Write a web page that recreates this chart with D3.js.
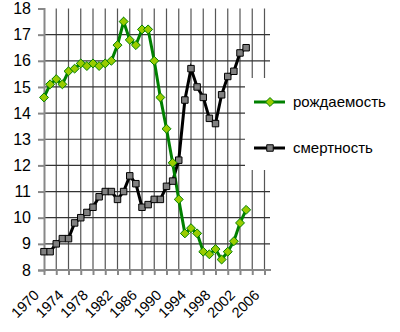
<!DOCTYPE html>
<html>
<head>
<meta charset="utf-8">
<script src="https://cdn.jsdelivr.net/npm/d3@7"></script>
<style>
  body { margin: 0; background: #fff; }
  svg { font-family: "Liberation Sans", Arial, sans-serif; }
</style>
</head>
<body>
<svg width="400" height="332"></svg>
<script>
var width = 400;
var height = 332;

var years = d3.range(1970, 2004);
var births = [14.6, 15.1, 15.3, 15.1, 15.6, 15.7, 15.9, 15.8, 15.9, 15.8,
              15.9, 16.0, 16.6, 17.5, 16.8, 16.6, 17.2, 17.2, 16.0, 14.6,
              13.4, 12.1, 10.7, 9.4, 9.6, 9.4, 8.7, 8.6, 8.8, 8.4,
              8.7, 9.1, 9.8, 10.3];
var deaths = [8.7, 8.7, 9.0, 9.2, 9.2, 9.8, 10.0, 10.2, 10.4, 10.8,
              11.0, 11.0, 10.7, 11.0, 11.6, 11.3, 10.4, 10.5, 10.7, 10.7,
              11.2, 11.4, 12.2, 14.5, 15.7, 15.0, 14.6, 13.8, 13.6, 14.7,
              15.4, 15.6, 16.3, 16.5];
var yTicks = d3.range(8, 19);
var xLabels = d3.range(1970, 2007, 4);
var names = ["рождаемость", "смертность"];

var svg = d3.select("svg");

var x = d3.scaleLinear().domain([1970, 2006]).range([44, 264.5]);
var y = d3.scaleLinear().domain([8, 18]).range([270, 8.5]);

// excel-like diamond: equal width and height
var excelDiamond = {
    draw(ctx, size) {
        var r = Math.sqrt(size / 2);
        ctx.moveTo(0, -r);
        ctx.lineTo(r, 0);
        ctx.lineTo(0, r);
        ctx.lineTo(-r, 0);
        ctx.closePath();
    }
};

// grid
svg.append("g").selectAll("line")
    .data(d3.range(1972, 2007, 2))
    .join("line")
        .attr("x1", d => x(d)).attr("x2", d => x(d))
        .attr("y1", y(18)).attr("y2", y(8))
        .attr("stroke", "#555")
        .attr("stroke-width", 1.2);

svg.append("g").selectAll("line")
    .data(d3.range(9, 18))
    .join("line")
        .attr("x1", x(1970)).attr("x2", 270)
        .attr("y1", d => y(d)).attr("y2", d => y(d))
        .attr("stroke", "#333")
        .attr("stroke-width", 1.2);

// axes
var yAxis = svg.append("g")
    .attr("transform", `translate(${x(1970)},0)`)
    .call(d3.axisLeft(y).tickValues(yTicks).tickSize(6).tickFormat(d3.format("d")));
yAxis.select(".domain").attr("stroke", "#888").attr("stroke-width", 2);
yAxis.selectAll(".tick line").attr("stroke", "#888").attr("stroke-width", 2);
yAxis.selectAll("text")
    .attr("x", -13)
    .attr("fill", "#000")
    .style("font-size", "16px")
    .style("font-family", "Liberation Sans, Arial, sans-serif");

var xAxis = svg.append("g")
    .attr("transform", `translate(0,${y(8)})`)
    .call(d3.axisBottom(x).tickValues(d3.range(1970, 2007, 2)).tickSize(5).tickFormat(""));
xAxis.select(".domain").attr("d", `M${x(1970)},0H271`).attr("stroke", "#888").attr("stroke-width", 2);
xAxis.selectAll(".tick line").attr("stroke", "#888").attr("stroke-width", 2);

svg.append("g").selectAll("text")
    .data(xLabels)
    .join("text")
        .attr("transform", d => `translate(${x(d) - 4},${y(8) + 26}) rotate(-45)`)
        .attr("text-anchor", "end")
        .style("font-size", "14.5px")
        .text(d => d);

// lines
var line = d3.line().x((d, i) => x(years[i])).y(d => y(d));

svg.append("path")
    .datum(deaths)
    .attr("d", line)
    .attr("fill", "none")
    .attr("stroke", "#000")
    .attr("stroke-width", 3);

svg.append("path")
    .datum(births)
    .attr("d", line)
    .attr("fill", "none")
    .attr("stroke", "#008000")
    .attr("stroke-width", 3);

var square = d3.symbol().type(d3.symbolSquare).size(42);
var diamond = d3.symbol().type(excelDiamond).size(40);

svg.append("g").selectAll("path")
    .data(deaths)
    .join("path")
        .attr("transform", (d, i) => `translate(${x(years[i])},${y(d)})`)
        .attr("d", square)
        .attr("fill", "#808080")
        .attr("stroke", "#000")
        .attr("stroke-width", 1);

svg.append("g").selectAll("path")
    .data(births)
    .join("path")
        .attr("transform", (d, i) => `translate(${x(years[i])},${y(d)})`)
        .attr("d", diamond)
        .attr("fill", "#99cc00")
        .attr("stroke", "#008000")
        .attr("stroke-width", 1);

// legend
var legend = svg.append("g");
legend.append("rect")
    .attr("x", 245).attr("y", 78)
    .attr("width", 155).attr("height", 92)
    .attr("fill", "#fff");

var items = legend.selectAll("g")
    .data(names)
    .join("g")
        .attr("transform", (d, i) => `translate(0,${102 + i * 46})`);

items.append("line")
    .attr("x1", 254).attr("x2", 285)
    .attr("stroke", (d, i) => i === 0 ? "#008000" : "#000")
    .attr("stroke-width", 3);

items.append("path")
    .attr("transform", "translate(270,0)")
    .attr("d", (d, i) => i === 0 ? diamond() : square())
    .attr("fill", (d, i) => i === 0 ? "#99cc00" : "#808080")
    .attr("stroke", (d, i) => i === 0 ? "#008000" : "#000");

items.append("text")
    .attr("x", 293)
    .attr("y", 5)
    .style("font-size", "15px")
    .text(d => d);
</script>
</body>
</html>
